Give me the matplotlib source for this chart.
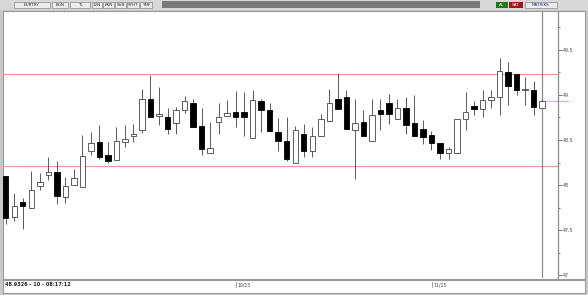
import numpy as np
import matplotlib
matplotlib.use("Agg")
import matplotlib.pyplot as plt
from matplotlib.patches import Rectangle

# daily candles
opens = [48.10, 47.64, 47.81, 47.74, 47.99, 48.11, 48.14, 47.87, 48.00, 47.98,
         48.38, 48.48, 48.33, 48.28, 48.48, 48.54, 48.61, 48.96, 48.77, 48.76,
         48.69, 48.83, 48.91, 48.66, 48.36, 48.70, 48.77, 48.81, 48.81, 48.52,
         48.93, 48.83, 48.59, 48.49, 48.25, 48.57, 48.38, 48.54, 48.71, 48.96,
         48.98, 48.61, 48.70, 48.49, 48.83, 48.91, 48.73, 48.86, 48.69, 48.62,
         48.56, 48.47, 48.36, 48.36, 48.73, 48.88, 48.84, 48.94, 48.98, 49.26,
         49.23, 49.06, 49.06, 48.85]
highs = [48.10, 47.91, 47.86, 48.16, 48.13, 48.31, 48.27, 48.09, 48.18, 48.56,
         48.59, 48.67, 48.48, 48.64, 48.67, 48.68, 49.07, 49.22, 49.09, 48.86,
         48.87, 48.99, 48.96, 48.86, 48.70, 48.91, 48.94, 49.04, 49.03, 49.06,
         48.95, 48.91, 48.74, 48.76, 48.66, 48.68, 48.64, 48.79, 49.07, 49.24,
         49.06, 48.95, 48.83, 48.95, 48.95, 49.01, 48.96, 48.98, 49.00, 48.72,
         48.60, 48.47, 48.42, 48.73, 49.03, 48.93, 49.06, 49.06, 49.41, 49.37,
         49.23, 49.20, 49.16, 48.95]
lows = [47.57, 47.60, 47.51, 47.74, 47.95, 48.06, 47.79, 47.80, 48.00, 47.98,
        48.33, 48.29, 48.25, 48.28, 48.42, 48.48, 48.58, 48.76, 48.67, 48.57,
        48.57, 48.80, 48.65, 48.33, 48.36, 48.57, 48.77, 48.65, 48.54, 48.52,
        48.59, 48.60, 48.38, 48.27, 48.25, 48.31, 48.31, 48.54, 48.71, 48.84,
        48.62, 48.07, 48.54, 48.49, 48.61, 48.68, 48.73, 48.57, 48.54, 48.46,
        48.39, 48.29, 48.29, 48.36, 48.61, 48.78, 48.76, 48.85, 48.78, 48.89,
        49.00, 48.89, 48.78, 48.85]
closes = [47.63, 47.77, 47.77, 47.94, 48.03, 48.15, 47.88, 47.99, 48.08, 48.32,
          48.47, 48.31, 48.27, 48.49, 48.51, 48.57, 48.96, 48.76, 48.79, 48.62,
          48.83, 48.93, 48.65, 48.40, 48.41, 48.76, 48.80, 48.76, 48.76, 48.94,
          48.83, 48.60, 48.49, 48.29, 48.61, 48.38, 48.54, 48.73, 48.91, 48.84,
          48.62, 48.69, 48.54, 48.78, 48.79, 48.79, 48.86, 48.67, 48.54, 48.53,
          48.47, 48.36, 48.40, 48.73, 48.81, 48.84, 48.94, 48.98, 49.27, 49.10,
          49.06, 49.065, 48.87, 48.9326]
levels = [49.233, 48.21]          # red horizontal lines
month_ticks = [27, 50]
month_labels = ["10/15", "11/15"]
y_ticks = [47, 47.5, 48, 48.5, 49, 49.5]
y_labels = ["47", "47.5", "48", "48.5", "49", "49.5"]
status_text = "48.9326 - 10 - 08:17:12"

W, H = 588, 295
fig = plt.figure(figsize=(W / 100, H / 100), dpi=100, facecolor="#c9c9c9")

def px(x0, y0, x1, y1):
    return [x0 / W, 1 - y1 / H, (x1 - x0) / W, (y1 - y0) / H]

# window background pieces
bg = fig.add_axes([0, 0, 1, 1])
bg.set_xlim(0, W)
bg.set_ylim(H, 0)
bg.axis("off")
bg.add_patch(Rectangle((3, 11), 582, 268, fc="white", ec="#9a9a9a", lw=0.8))
bg.add_patch(Rectangle((3, 280), 582, 13, fc="white", ec="#9a9a9a", lw=0.8))
# toolbar
bg.add_patch(Rectangle((0, 0), W, 10, fc="#d8d8d8", ec="none"))
bg.add_patch(Rectangle((162, 1), 318, 7, fc="#7a7a7a", ec="none"))
for x0, w, t in [(14, 36, "EURTRY"), (52, 16, "BGN"), (70, 20, "TL"),
                 (92, 10, "12N"), (103, 11, "KKN"), (115, 11, "SVB"),
                 (127, 12, "SYHT"), (140, 12, "YMF")]:
    bg.add_patch(Rectangle((x0, 1.5), w, 6.5, fc="#ececec", ec="#8a8a8a", lw=0.5))
    bg.text(x0 + w / 2, 5, t, fontsize=3, ha="center", va="center", color="#333")
bg.add_patch(Rectangle((496, 1.5), 12, 6.5, fc="#1e7a1e", ec="none"))
bg.text(502, 5, "AL", fontsize=3, ha="center", va="center", color="white")
bg.add_patch(Rectangle((509, 1.5), 14, 6.5, fc="#a01818", ec="none"))
bg.text(516, 5, "SAT", fontsize=3, ha="center", va="center", color="white")
bg.add_patch(Rectangle((525, 1.5), 32, 6.5, fc="#ececec", ec="#8a8a8a", lw=0.5))
bg.text(541, 5, "MATRIKS", fontsize=3, ha="center", va="center", color="#203080")
# bottom status text
bg.text(5, 284.5, status_text, fontsize=3.6, ha="left", va="center",
        color="#222", fontweight="bold")

# main chart
ax = fig.add_axes(px(3, 12, 557.5, 278))
ax.set_facecolor("none")
n = len(opens)
x = np.arange(n)
o = np.array(opens)
h = np.array(highs)
l = np.array(lows)
c = np.array(closes)
up = c >= o

ax.vlines(x, l, h, color="#5a5a5a", lw=0.7, zorder=1)
body_lo = np.minimum(o, c)
body_h = np.maximum(np.abs(c - o), 0.01)
ax.bar(x[up], body_h[up], 0.64, bottom=body_lo[up], color="white",
       edgecolor="#444444", linewidth=0.6, zorder=2)
ax.bar(x[~up], body_h[~up], 0.64, bottom=body_lo[~up], color="black",
       edgecolor="black", linewidth=0.6, zorder=2)

for lv in levels:
    ax.axhline(lv, color="#f09a9a", lw=0.9, zorder=0)
ax.axvline(n - 1, color="#8c8c8c", lw=0.9, zorder=0)
ax.plot([n - 1 + 0.35, n + 2], [c[-1], c[-1]], color="#80e0e0", lw=0.9,
        zorder=0, clip_on=False)

ax.set_xlim(-0.32, 64.8)
ax.set_ylim(46.967, 49.922)
ax.set_xticks([])
ax.yaxis.tick_right()
ax.set_yticks(y_ticks)
ax.set_yticklabels(y_labels)
ax.set_yticks(np.arange(47, 50, 0.25), minor=True)
ax.tick_params(axis="y", which="major", length=3, width=0.5, pad=1,
               labelsize=3.4, colors="#444444")
ax.tick_params(axis="y", which="minor", length=1.2, width=0.5, colors="#444444")
for s in ["top", "bottom", "left"]:
    ax.spines[s].set_visible(False)
ax.spines["right"].set_color("#8c8c8c")
ax.spines["right"].set_linewidth(0.9)

# month labels in status strip
for i, lab in zip(month_ticks, month_labels):
    xp = 5.7 + i * 8.52
    bg.plot([xp, xp], [281.5, 287], color="#777", lw=0.5)
    bg.text(xp + 1.5, 285, lab, fontsize=3.3, ha="left", va="center", color="#444")

fig.savefig("out.png", dpi=100, facecolor=fig.get_facecolor())
